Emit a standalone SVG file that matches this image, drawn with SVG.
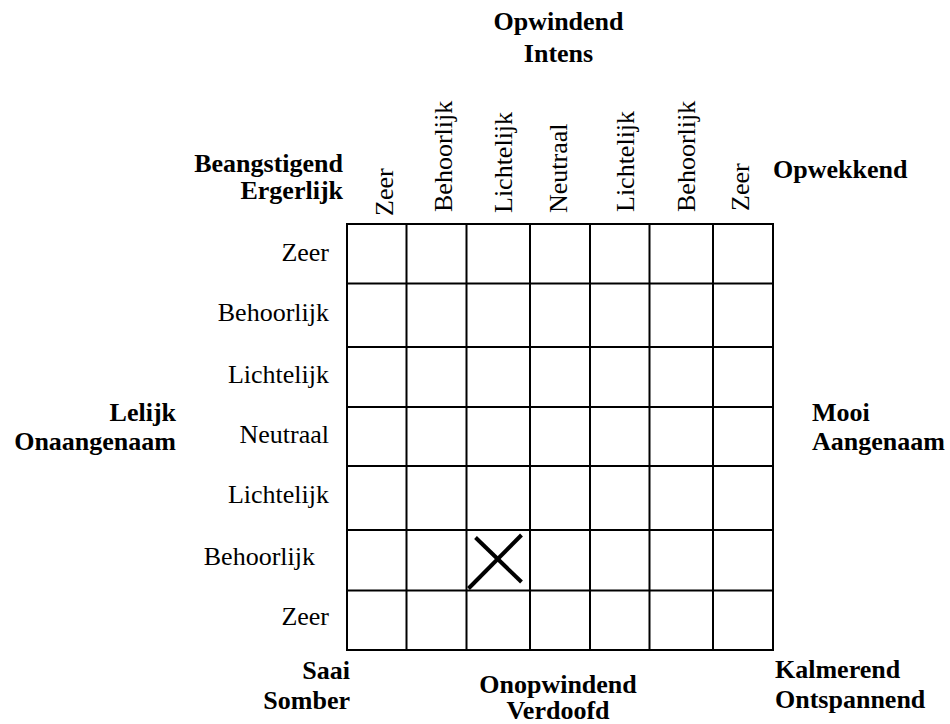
<svg xmlns="http://www.w3.org/2000/svg" width="950" height="724" viewBox="0 0 950 724" font-family="'Liberation Serif', 'Times New Roman', Tinos, 'DejaVu Serif', serif">
  <style>
    text { font-family: "Liberation Serif", "Times New Roman", Tinos, "DejaVu Serif", serif; font-size: 26px; fill: #000; }
    .b { font-weight: bold; }
    .r { text-anchor: end; }
    .m { text-anchor: middle; }
    .grid { stroke: #000; stroke-width: 2; fill: none; }
    .mark { stroke: #000; stroke-width: 4; stroke-linecap: butt; }
  </style>
  <rect width="950" height="724" fill="#fff"/>

  <!-- axis pole labels -->
  <g id="pole-top">
    <text class="b m" x="558.5" y="29.5">Opwindend</text>
    <text class="b m" x="558.5" y="61.5">Intens</text>
  </g>
  <g id="pole-top-left">
    <text class="b r" x="343" y="172">Beangstigend</text>
    <text class="b r" x="343" y="199">Ergerlijk</text>
  </g>
  <g id="pole-top-right">
    <text class="b" x="773" y="178">Opwekkend</text>
  </g>
  <g id="pole-left">
    <text class="b r" x="176" y="420.5">Lelijk</text>
    <text class="b r" x="176" y="450">Onaangenaam</text>
  </g>
  <g id="pole-right">
    <text class="b" x="812" y="420.5">Mooi</text>
    <text class="b" x="812" y="450">Aangenaam</text>
  </g>
  <g id="pole-bottom-left">
    <text class="b r" x="350" y="679">Saai</text>
    <text class="b r" x="350" y="709">Somber</text>
  </g>
  <g id="pole-bottom">
    <text class="b m" x="558" y="693">Onopwindend</text>
    <text class="b m" x="558" y="719">Verdoofd</text>
  </g>
  <g id="pole-bottom-right">
    <text class="b" x="775" y="678">Kalmerend</text>
    <text class="b" x="775" y="708">Ontspannend</text>
  </g>

  <!-- column scale labels (rotated) -->
  <g id="col-labels">
    <text transform="translate(393,216) rotate(-90)">Zeer</text>
    <text transform="translate(452,212) rotate(-90)">Behoorlijk</text>
    <text transform="translate(512,213) rotate(-90)">Lichtelijk</text>
    <text transform="translate(567,213) rotate(-90)">Neutraal</text>
    <text transform="translate(634,212) rotate(-90)">Lichtelijk</text>
    <text transform="translate(695,212) rotate(-90)">Behoorlijk</text>
    <text transform="translate(749,211) rotate(-90)">Zeer</text>
  </g>

  <!-- row scale labels -->
  <g id="row-labels">
    <text class="r" x="329" y="261">Zeer</text>
    <text class="r" x="329" y="321">Behoorlijk</text>
    <text class="r" x="329" y="383">Lichtelijk</text>
    <text class="r" x="329" y="443">Neutraal</text>
    <text class="r" x="329" y="503">Lichtelijk</text>
    <text class="r" x="315" y="565">Behoorlijk</text>
    <text class="r" x="329" y="625">Zeer</text>
  </g>

  <!-- 7x7 rating grid -->
  <g id="grid" class="grid">
    <rect x="347" y="224" width="426" height="426"/>
    <path d="M406.5 224V650M466.5 224V650M530 224V650M590 224V650M649.5 224V650M713 224V650"/>
    <path d="M347 283.5H773M347 347H773M347 407H773M347 466H773M347 530H773M347 590.5H773"/>
  </g>

  <!-- selected cell -->
  <g id="mark">
    <line class="mark" x1="468.5" y1="588.5" x2="521.5" y2="535"/>
    <line class="mark" x1="475.5" y1="537.5" x2="521.5" y2="582"/>
  </g>
</svg>
